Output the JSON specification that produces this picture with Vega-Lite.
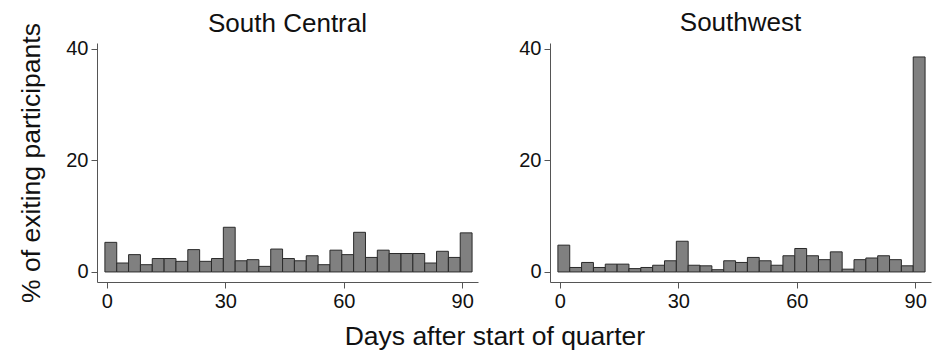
{
  "$schema": "https://vega.github.io/schema/vega-lite/v6.json",
  "background": "white",
  "padding": {"left": 18, "top": 9, "right": 2, "bottom": 2},
  "config": {
    "font": "Liberation Sans",
    "view": {"stroke": null},
    "axis": {"grid": false, "domainColor": "#555", "tickColor": "#555", "labelColor": "#111", "titleColor": "#111", "labelFontSize": 20, "titleFontSize": 26.5, "titleFontWeight": "normal", "tickSize": 6, "labelPadding": 3, "domainWidth": 1},
    "concat": {"spacing": 40},
    "title": {"fontSize": 26, "fontWeight": "normal", "color": "#111"}
  },
  "title": {"text": "Days after start of quarter", "orient": "bottom", "anchor": "middle", "offset": 13, "fontSize": 26.5, "dx": 20},
  "data": {"values": [
    {"region": "South Central", "from": -0.5, "to": 2.5, "pct": 5.3},
    {"region": "South Central", "from": 2.5, "to": 5.5, "pct": 1.6},
    {"region": "South Central", "from": 5.5, "to": 8.5, "pct": 3.1},
    {"region": "South Central", "from": 8.5, "to": 11.5, "pct": 1.3},
    {"region": "South Central", "from": 11.5, "to": 14.5, "pct": 2.4},
    {"region": "South Central", "from": 14.5, "to": 17.5, "pct": 2.4},
    {"region": "South Central", "from": 17.5, "to": 20.5, "pct": 1.9},
    {"region": "South Central", "from": 20.5, "to": 23.5, "pct": 4.0},
    {"region": "South Central", "from": 23.5, "to": 26.5, "pct": 1.9},
    {"region": "South Central", "from": 26.5, "to": 29.5, "pct": 2.4},
    {"region": "South Central", "from": 29.5, "to": 32.5, "pct": 8.0},
    {"region": "South Central", "from": 32.5, "to": 35.5, "pct": 2.0},
    {"region": "South Central", "from": 35.5, "to": 38.5, "pct": 2.2},
    {"region": "South Central", "from": 38.5, "to": 41.5, "pct": 1.0},
    {"region": "South Central", "from": 41.5, "to": 44.5, "pct": 4.1},
    {"region": "South Central", "from": 44.5, "to": 47.5, "pct": 2.4},
    {"region": "South Central", "from": 47.5, "to": 50.5, "pct": 2.0},
    {"region": "South Central", "from": 50.5, "to": 53.5, "pct": 2.9},
    {"region": "South Central", "from": 53.5, "to": 56.5, "pct": 1.3},
    {"region": "South Central", "from": 56.5, "to": 59.5, "pct": 3.9},
    {"region": "South Central", "from": 59.5, "to": 62.5, "pct": 3.1},
    {"region": "South Central", "from": 62.5, "to": 65.5, "pct": 7.1},
    {"region": "South Central", "from": 65.5, "to": 68.5, "pct": 2.6},
    {"region": "South Central", "from": 68.5, "to": 71.5, "pct": 3.9},
    {"region": "South Central", "from": 71.5, "to": 74.5, "pct": 3.3},
    {"region": "South Central", "from": 74.5, "to": 77.5, "pct": 3.3},
    {"region": "South Central", "from": 77.5, "to": 80.5, "pct": 3.3},
    {"region": "South Central", "from": 80.5, "to": 83.5, "pct": 1.6},
    {"region": "South Central", "from": 83.5, "to": 86.5, "pct": 3.7},
    {"region": "South Central", "from": 86.5, "to": 89.5, "pct": 2.6},
    {"region": "South Central", "from": 89.5, "to": 92.5, "pct": 7.0},
    {"region": "Southwest", "from": -0.5, "to": 2.5, "pct": 4.8},
    {"region": "Southwest", "from": 2.5, "to": 5.5, "pct": 0.8},
    {"region": "Southwest", "from": 5.5, "to": 8.5, "pct": 1.7},
    {"region": "Southwest", "from": 8.5, "to": 11.5, "pct": 0.8},
    {"region": "Southwest", "from": 11.5, "to": 14.5, "pct": 1.4},
    {"region": "Southwest", "from": 14.5, "to": 17.5, "pct": 1.4},
    {"region": "Southwest", "from": 17.5, "to": 20.5, "pct": 0.6},
    {"region": "Southwest", "from": 20.5, "to": 23.5, "pct": 0.8},
    {"region": "Southwest", "from": 23.5, "to": 26.5, "pct": 1.2},
    {"region": "Southwest", "from": 26.5, "to": 29.5, "pct": 2.0},
    {"region": "Southwest", "from": 29.5, "to": 32.5, "pct": 5.5},
    {"region": "Southwest", "from": 32.5, "to": 35.5, "pct": 1.2},
    {"region": "Southwest", "from": 35.5, "to": 38.5, "pct": 1.1},
    {"region": "Southwest", "from": 38.5, "to": 41.5, "pct": 0.4},
    {"region": "Southwest", "from": 41.5, "to": 44.5, "pct": 2.0},
    {"region": "Southwest", "from": 44.5, "to": 47.5, "pct": 1.7},
    {"region": "Southwest", "from": 47.5, "to": 50.5, "pct": 2.6},
    {"region": "Southwest", "from": 50.5, "to": 53.5, "pct": 2.0},
    {"region": "Southwest", "from": 53.5, "to": 56.5, "pct": 1.2},
    {"region": "Southwest", "from": 56.5, "to": 59.5, "pct": 2.9},
    {"region": "Southwest", "from": 59.5, "to": 62.5, "pct": 4.2},
    {"region": "Southwest", "from": 62.5, "to": 65.5, "pct": 2.9},
    {"region": "Southwest", "from": 65.5, "to": 68.5, "pct": 2.2},
    {"region": "Southwest", "from": 68.5, "to": 71.5, "pct": 3.6},
    {"region": "Southwest", "from": 71.5, "to": 74.5, "pct": 0.5},
    {"region": "Southwest", "from": 74.5, "to": 77.5, "pct": 2.2},
    {"region": "Southwest", "from": 77.5, "to": 80.5, "pct": 2.5},
    {"region": "Southwest", "from": 80.5, "to": 83.5, "pct": 2.9},
    {"region": "Southwest", "from": 83.5, "to": 86.5, "pct": 2.2},
    {"region": "Southwest", "from": 86.5, "to": 89.5, "pct": 1.1},
    {"region": "Southwest", "from": 89.5, "to": 92.5, "pct": 38.5}
  ]},
  "hconcat": [
    {
      "width": 381,
      "height": 239,
      "title": {"text": "South Central", "anchor": "middle", "offset": -14},
      "transform": [{"filter": "datum.region === 'South Central'"}],
      "mark": {"type": "bar", "fill": "#808080", "stroke": "#2a2a2a", "strokeWidth": 1},
      "encoding": {
        "x": {"field": "from", "type": "quantitative", "scale": {"domain": [-2.5, 94], "nice": false, "zero": false}, "axis": {"values": [0, 30, 60, 90], "title": null}},
        "x2": {"field": "to"},
        "y": {"field": "pct", "type": "quantitative", "scale": {"domain": [-1.8, 41], "nice": false, "zero": false}, "axis": {"values": [0, 20, 40], "title": "% of exiting participants", "titlePadding": 20}},
        "y2": {"datum": 0}
      }
    },
    {
      "width": 381,
      "height": 239,
      "title": {"text": "Southwest", "anchor": "middle", "offset": 3},
      "transform": [{"filter": "datum.region === 'Southwest'"}],
      "mark": {"type": "bar", "fill": "#808080", "stroke": "#2a2a2a", "strokeWidth": 1},
      "encoding": {
        "x": {"field": "from", "type": "quantitative", "scale": {"domain": [-2.5, 94], "nice": false, "zero": false}, "axis": {"values": [0, 30, 60, 90], "title": null}},
        "x2": {"field": "to"},
        "y": {"field": "pct", "type": "quantitative", "scale": {"domain": [-1.8, 41], "nice": false, "zero": false}, "axis": {"values": [0, 20, 40], "title": null}},
        "y2": {"datum": 0}
      }
    }
  ]
}
